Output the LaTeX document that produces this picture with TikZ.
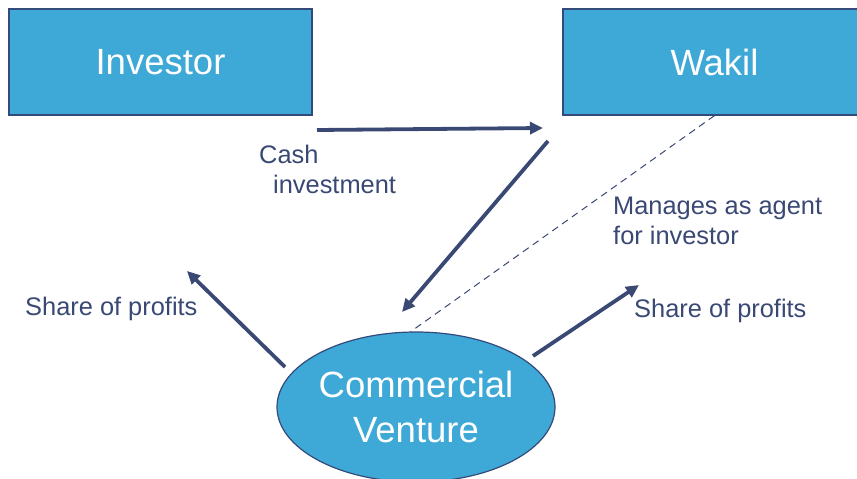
\documentclass[tikz,border=0pt]{standalone}
\usepackage{fontspec}
\setmainfont{Liberation Sans}
\usetikzlibrary{shapes.geometric,arrows.meta}
\definecolor{boxblue}{RGB}{62,168,214}
\definecolor{edgeblue}{RGB}{52,74,122}
\definecolor{inkblue}{RGB}{58,72,116}
\begin{document}
\begin{tikzpicture}[x=1pt,y=-1pt,
    party/.style = {draw=edgeblue, line width=1.2pt, fill=boxblue, text=white, minimum width=303pt, minimum height=106pt, font=\fontsize{36.5}{45}\selectfont},
    venture/.style = {party, ellipse, minimum width=278pt, minimum height=150pt, inner sep=0pt, align=center},
    label/.style = {text=inkblue, inner sep=0pt, anchor=base west, align=left, font=\fontsize{25.4}{30}\selectfont},
    flow/.style = {draw=inkblue, line width=3.8pt, -{Triangle[length=13pt,width=12pt]}},
    agent/.style = {draw=inkblue, line width=1pt, dash pattern=on 7pt off 5pt}]
            \clip (0,0) rectangle (857,479);
            \node[party] (investor) at (160.5,62) {Investor};
            \node[party] (wakil) at (714.5,62) {Wakil};
            \node[venture] (cv) at (416,407) {Commercial\\Venture};
            % base of a two-line label is its last line
            \node[label] (cash) at (259,193) {Cash\\\hspace*{14pt}investment};
            \node[label] (manages) at (613,244) {Manages as agent\\for investor};
            \node[label] (shareL) at (25,315) {Share of profits};
            \node[label] (shareR) at (634,317) {Share of profits};
            \coordinate (c1) at (317,130);
            \coordinate (c2) at (543,128);
            \coordinate (a1) at (548,141);
            \coordinate (a2) at (402,312);
            \coordinate (l1) at (285,367);
            \coordinate (l2) at (187,271);
            \coordinate (r1) at (533,356);
            \coordinate (r2) at (639,285);
            \draw[flow] (c1) -- (c2);
            \draw[flow] (a1) -- (a2);
            \draw[flow] (l1) -- (l2);
            \draw[flow] (r1) -- (r2);
            \draw[agent] (wakil.south) -- ([xshift=-5pt]cv.north);
        \end{tikzpicture}
\end{document}
